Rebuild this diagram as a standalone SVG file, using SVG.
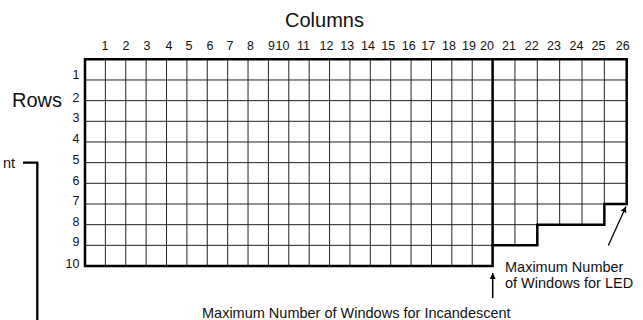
<svg xmlns="http://www.w3.org/2000/svg" width="643" height="320" viewBox="0 0 643 320">
<style>
  text { font-family: "Liberation Sans", Arial, Helvetica, sans-serif; fill: #111; }
  .num { font-size: 12.5px; text-anchor: middle; }
  .rn { font-size: 12.5px; text-anchor: end; }
  .big { font-size: 20px; }
  .lbl { font-size: 14.5px; }
  .thin { stroke: #222; stroke-width: 1; fill: none; }
  .thick { stroke: #000; stroke-width: 2.5; fill: none; stroke-linejoin: miter; stroke-linecap: square; }
  .conn { stroke: #000; fill: none; }
</style>
<defs>
  <marker id="ah" viewBox="0 0 10 10" refX="10" refY="5" markerWidth="6" markerHeight="6" markerUnits="userSpaceOnUse" orient="auto">
    <path d="M0,0 L10,5 L0,10 Z" fill="#000"/>
  </marker>
</defs>
<rect width="643" height="320" fill="#fff"/>

<g id="grid">
  <path class="thin" d="M85,79.97H626.7 M85,100.64H626.7 M85,121.31H626.7 M85,141.98H626.7 M85,162.65H626.7 M85,183.32H626.7 M85,203.99H604.35 M85,224.66H537.3 M85,245.33H492.6"/>
  <path class="thin" d="M105.38,59.3V266 M125.76,59.3V266 M146.14,59.3V266 M166.52,59.3V266 M186.9,59.3V266 M207.28,59.3V266 M227.66,59.3V266 M248.04,59.3V266 M268.42,59.3V266 M288.8,59.3V266 M309.18,59.3V266 M329.56,59.3V266 M349.94,59.3V266 M370.32,59.3V266 M390.7,59.3V266 M411.08,59.3V266 M431.46,59.3V266 M451.84,59.3V266 M472.22,59.3V266 M514.95,59.3V245.33 M537.3,59.3V224.66 M559.65,59.3V224.66 M582,59.3V224.66 M604.35,59.3V203.99"/>
  <path class="thick" d="M85,59.3H626.7V203.99H604.35V224.66H537.3V245.33H492.6V266H85Z"/>
  <path class="thick" d="M492.6,59.3V245.33"/>
</g>

<g id="column-labels">
  <text class="big" x="324.5" y="26.7" text-anchor="middle">Columns</text>
  <text class="num" x="105" y="49.5">1</text>
  <text class="num" x="126" y="49.5">2</text>
  <text class="num" x="147" y="49.5">3</text>
  <text class="num" x="169" y="49.5">4</text>
  <text class="num" x="189" y="49.5">5</text>
  <text class="num" x="210" y="49.5">6</text>
  <text class="num" x="230" y="49.5">7</text>
  <text class="num" x="250.5" y="49.5">8</text>
  <text class="num" x="271.5" y="49.5">9</text>
  <text class="num" x="282.5" y="49.5">10</text>
  <text class="num" x="303.5" y="49.5">11</text>
  <text class="num" x="326.5" y="49.5">12</text>
  <text class="num" x="347.3" y="49.5">13</text>
  <text class="num" x="368" y="49.5">14</text>
  <text class="num" x="388.3" y="49.5">15</text>
  <text class="num" x="408.8" y="49.5">16</text>
  <text class="num" x="428.3" y="49.5">17</text>
  <text class="num" x="449" y="49.5">18</text>
  <text class="num" x="469" y="49.5">19</text>
  <text class="num" x="487" y="49.5">20</text>
  <text class="num" x="509" y="49.5">21</text>
  <text class="num" x="531.7" y="49.5">22</text>
  <text class="num" x="554" y="49.5">23</text>
  <text class="num" x="576.5" y="49.5">24</text>
  <text class="num" x="598.5" y="49.5">25</text>
  <text class="num" x="622.8" y="49.5">26</text>
</g>

<g id="row-labels">
  <text class="big" x="12" y="107.3">Rows</text>
  <text class="rn" x="79.5" y="79">1</text>
  <text class="rn" x="79.5" y="101.6">2</text>
  <text class="rn" x="79.5" y="122.4">3</text>
  <text class="rn" x="79.5" y="143.2">4</text>
  <text class="rn" x="79.5" y="164">5</text>
  <text class="rn" x="79.5" y="184.6">6</text>
  <text class="rn" x="79.5" y="205.2">7</text>
  <text class="rn" x="79.5" y="225.9">8</text>
  <text class="rn" x="79.5" y="246.4">9</text>
  <text class="rn" x="79.5" y="267.8">10</text>
</g>

<g id="label-led">
  <text class="lbl" x="505" y="271.5">Maximum Number</text>
  <text class="lbl" x="505" y="288">of Windows for LED</text>
</g>

<g id="label-incandescent">
  <text class="lbl" x="202" y="317.5">Maximum Number of Windows for Incandescent</text>
</g>

<g id="label-left">
  <text class="lbl" x="15" y="168.3" text-anchor="end">nt</text>
</g>

<g id="connectors">
  <line class="conn" x1="492.7" y1="298" x2="492.7" y2="273" stroke-width="1.5" marker-end="url(#ah)"/>
  <line class="conn" x1="608.3" y1="245.5" x2="626" y2="206.5" stroke-width="1.3" marker-end="url(#ah)"/>
  <path class="conn" d="M23,162.7H37.3V321" stroke-width="2.3"/>
</g>
</svg>
